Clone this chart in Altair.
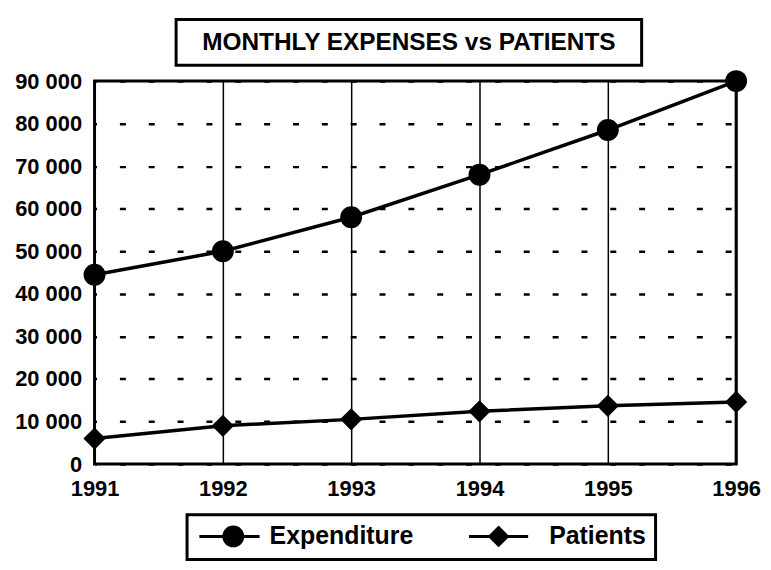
import altair as alt
import pandas as pd

years = [1991, 1992, 1993, 1994, 1995, 1996]
expenditure = [44500, 50000, 58000, 68000, 78500, 90000]
patients = [6000, 9000, 10500, 12400, 13700, 14600]
series_names = ["Expenditure", "Patients"]
y_ticks = [0, 10000, 20000, 30000, 40000, 50000, 60000, 70000, 80000, 90000]
title_text = "MONTHLY EXPENSES vs PATIENTS"

df = pd.DataFrame({
    "year": years * 2,
    "value": expenditure + patients,
    "series": [series_names[0]] * len(years) + [series_names[1]] * len(years),
})

FONT = "Liberation Sans"

x_enc = alt.X("year:Q", scale=alt.Scale(domain=[1991, 1996], nice=False, zero=False),
              axis=alt.Axis(values=years, format="d", title=None, grid=True,
                            gridColor="black", gridWidth=1.5, domain=False, ticks=False,
                            labelFont=FONT, labelFontSize=22, labelFontWeight="bold",
                            labelColor="black", labelPadding=15, labelFlush=False))
y_enc = alt.Y("value:Q", scale=alt.Scale(domain=[0, 90000], nice=False),
              axis=alt.Axis(values=y_ticks, title=None, grid=True, gridColor="black",
                            gridWidth=2.5, gridDash=[6, 23], gridDashOffset=4,
                            domain=False, ticks=False,
                            labelExpr="replace(format(datum.value, ','), ',', ' ')",
                            labelFont=FONT, labelFontSize=22, labelFontWeight="bold",
                            labelColor="black", labelPadding=13))

base = alt.Chart(df)

lines = base.mark_line(color="black", strokeWidth=3.5).encode(
    x=x_enc, y=y_enc, detail="series:N")

pts_exp = base.transform_filter(alt.datum.series == "Expenditure").mark_point(
    shape="circle", filled=True, color="black", size=484, opacity=1).encode(
    x="year:Q", y="value:Q")

pts_pat = base.transform_filter(alt.datum.series == "Patients").mark_point(
    shape="diamond", filled=True, color="black", size=500, opacity=1).encode(
    x="year:Q", y="value:Q")

# legend symbols: a thin filled bar (the line stub) plus the marker
circle_path = ("M-3.1,-0.14H2.4V0.14H-3.1Z"
               "M1,0A1,1,0,1,1,-1,0A1,1,0,1,1,1,0Z")
diamond_path = ("M-4.0,-0.14H1.4V0.14H-4.0Z"
                "M-1.3,-1L-0.3,0L-1.3,1L-2.3,0Z")

legend_layer = base.transform_filter("false").mark_point(
    filled=True, color="black", opacity=1, size=484, strokeWidth=0).encode(
    x="year:Q", y="value:Q",
    shape=alt.Shape("series:N",
                    scale=alt.Scale(domain=series_names, range=[circle_path, diamond_path]),
                    legend=alt.Legend(title=None, orient="none", legendX=93, legendY=436,
                                      direction="horizontal", strokeColor="black",
                                      padding=9, labelFont=FONT,
                                      labelFontSize=25, labelFontWeight="bold",
                                      labelColor="black", labelOffset=24,
                                      columnPadding=52, symbolSize=484,
                                      symbolOffset=25,
                                      symbolFillColor="black", symbolOpacity=1,
                                      labelLimit=300)))

title_df = pd.DataFrame({"t": [title_text]})
title_box = alt.Chart(title_df).mark_rect(
    fill="white", fillOpacity=0, stroke="black", strokeWidth=3).encode(
    x=alt.value(82), x2=alt.value(550), y=alt.value(-62), y2=alt.value(-16))
title_txt = alt.Chart(title_df).mark_text(
    font=FONT, fontSize=24.5, fontWeight="bold", color="black",
    align="center", baseline="middle").encode(
    x=alt.value(316), y=alt.value(-38), text="t:N")

chart = alt.layer(lines, pts_exp, pts_pat, legend_layer, title_box, title_txt).properties(
    width=645, height=385,
    autosize=alt.AutoSizeParams(type="none"),
    padding={"left": 87, "top": 72, "right": 27, "bottom": 97},
).configure_view(stroke="black", strokeWidth=3).configure_legend(strokeWidth=3)

chart.save("out.html", embed_options={"renderer": "svg", "actions": False})
